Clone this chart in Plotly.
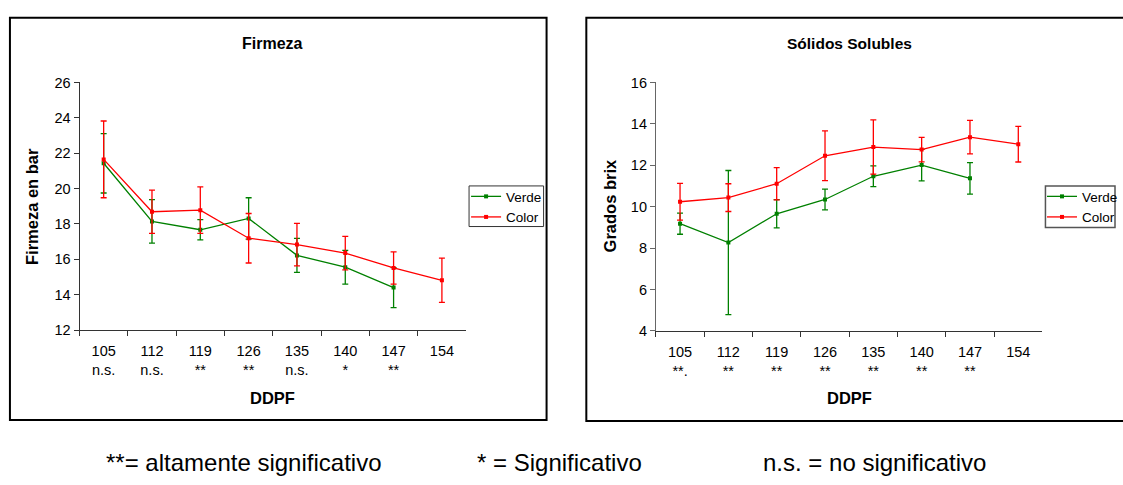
import plotly.graph_objects as go

# ---------------- data ----------------
ddpf = ["105", "112", "119", "126", "135", "140", "147", "154"]
sig_firmeza = ["n.s.", "n.s.", "**", "**", "n.s.", "*", "**", ""]
sig_solidos = ["**.", "**", "**", "**", "**", "**", "**", ""]

firmeza_verde = [21.43, 18.14, 17.67, 18.31, 16.22, 15.55, 14.40]
firmeza_verde_err = [1.68, 1.23, 0.57, 1.17, 0.96, 0.95, 1.13]
firmeza_color = [21.65, 18.69, 18.78, 17.19, 16.83, 16.35, 15.51, 14.81]
firmeza_color_err = [2.17, 1.22, 1.32, 1.40, 1.20, 0.95, 0.91, 1.25]

solidos_verde = [9.18, 8.27, 9.66, 10.35, 11.47, 12.01, 11.37]
solidos_verde_err = [0.51, 3.48, 0.68, 0.50, 0.50, 0.76, 0.76]
solidos_color = [10.24, 10.44, 11.11, 12.46, 12.88, 12.76, 13.36, 13.02]
solidos_color_err = [0.89, 0.67, 0.78, 1.20, 1.31, 0.59, 0.81, 0.86]

series_names = ["Verde", "Color"]
series_colors = ["#008000", "#FF0000"]

# ---------------- layout helpers ----------------
W, H = 1123, 485
FONT = "Liberation Sans, Arial, sans-serif"


def px(x):
    return x / W


def py(y):
    return 1 - y / H


fig = go.Figure()


def add_series(xref, yref, legend, xs, ys, errs, name, color):
    fig.add_trace(go.Scatter(
        x=xs, y=ys, name=name, mode="lines+markers",
        xaxis=xref, yaxis=yref, legend=legend,
        line=dict(color=color, width=1.3),
        marker=dict(symbol="square", size=4, color=color),
        error_y=dict(type="data", array=errs, visible=True,
                     color=color, thickness=1.3, width=3),
    ))


add_series("x", "y", "legend", ddpf[:len(firmeza_verde)], firmeza_verde,
           firmeza_verde_err, series_names[0], series_colors[0])
add_series("x", "y", "legend", ddpf, firmeza_color,
           firmeza_color_err, series_names[1], series_colors[1])
add_series("x2", "y2", "legend2", ddpf[:len(solidos_verde)], solidos_verde,
           solidos_verde_err, series_names[0], series_colors[0])
add_series("x2", "y2", "legend2", ddpf, solidos_color,
           solidos_color_err, series_names[1], series_colors[1])

tickfont = dict(family=FONT, size=14.5, color="black")

xcommon = dict(type="category", categoryorder="array", categoryarray=ddpf,
               tickmode="array", tickvals=ddpf, tickson="boundaries",
               ticks="outside", ticklen=5, tickcolor="#333", showline=True,
               linecolor="#333", linewidth=1, showgrid=False, zeroline=False,
               tickfont=tickfont, ticklabelstandoff=8,
               range=[-0.5, len(ddpf) - 0.5], fixedrange=True)
ycommon = dict(ticks="outside", ticklen=5, tickcolor="#333", showline=True,
               linecolor="#333", linewidth=1, showgrid=False, zeroline=False,
               tickfont=tickfont, dtick=2, fixedrange=True)

legend_common = dict(xanchor="left", yanchor="top", borderwidth=0,
                     bgcolor="rgba(0,0,0,0)", tracegroupgap=0,
                     font=dict(family=FONT, size=13.5, color="black"))

fig.update_layout(
    width=W, height=H, margin=dict(l=0, r=0, t=0, b=0),
    paper_bgcolor="white", plot_bgcolor="white",
    font=dict(family=FONT, color="black"),
    xaxis=dict(xcommon, domain=[px(80), px(469)], anchor="y",
               ticktext=[f"{d}<br>{s}" for d, s in zip(ddpf, sig_firmeza)]),
    yaxis=dict(ycommon, domain=[py(333), py(77)], anchor="x", range=[12, 26]),
    xaxis2=dict(xcommon, domain=[px(660), px(1049)], anchor="y2",
                ticktext=[f"{d}<br>{s}" for d, s in zip(ddpf, sig_solidos)]),
    yaxis2=dict(ycommon, domain=[py(334), py(77)], anchor="x2", range=[4, 16],
                linecolor="#666", tickcolor="#666"),
    legend=dict(legend_common, x=px(469), y=py(179)),
    legend2=dict(legend_common, x=px(1049), y=py(179)),
    showlegend=True,
)

# chart frames
fig.add_shape(type="rect", xref="paper", yref="paper",
              x0=px(10), x1=px(550), y0=py(426), y1=py(10),
              line=dict(color="black", width=2))
fig.add_shape(type="rect", xref="paper", yref="paper",
              x0=px(590), x1=px(1140), y0=py(427), y1=py(10),
              line=dict(color="black", width=2))
# legend boxes
fig.add_shape(type="rect", xref="paper", yref="paper",
              x0=px(472), x1=px(547), y0=py(226), y1=py(184),
              line=dict(color="#333", width=1))
fig.add_shape(type="rect", xref="paper", yref="paper",
              x0=px(1052), x1=px(1122), y0=py(227), y1=py(184),
              line=dict(color="#555", width=1.5))

ann = []


def text(x, y, s, size, bold=False, angle=0, xanchor="center"):
    ann.append(dict(x=px(x), y=py(y), xref="paper", yref="paper", text=f"<b>{s}</b>" if bold else s,
                    showarrow=False, xanchor=xanchor, yanchor="middle", textangle=angle,
                    font=dict(family=FONT, size=size, color="black")))


text(274.5, 37, "Firmeza", 16, bold=True)
text(854.5, 37, "Sólidos Solubles", 15.5, bold=True)
text(32, 205, "Firmeza en bar", 16.5, bold=True, angle=-90)
text(614, 205, "Grados brix", 16.5, bold=True, angle=-90)
text(274.5, 403, "DDPF", 16.5, bold=True)
text(854.5, 403, "DDPF", 16.5, bold=True)
text(105, 470, "**= altamente significativo", 24, xanchor="left")
text(478, 470, "* = Significativo", 24, xanchor="left")
text(766, 470, "n.s. = no significativo", 24, xanchor="left")

fig.update_layout(annotations=ann)

fig.write_html("out.html")
